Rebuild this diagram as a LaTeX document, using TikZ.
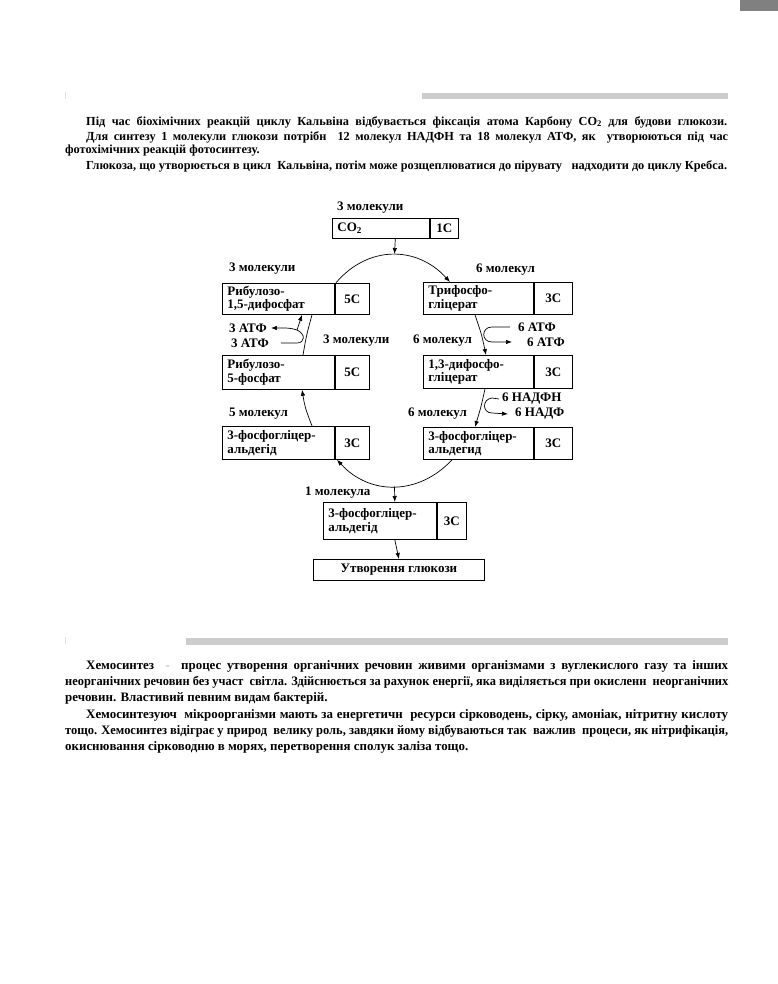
\documentclass[tikz,border=0pt]{standalone}
\usepackage{fontspec}
\usepackage{graphicx}
\setmainfont{Liberation Serif}
\usetikzlibrary{arrows.meta,calc}
\newcommand{\cbox}[8]{%
  \node[cellA, text width=#4pt, minimum height=#6pt] (#1) at (#2,#3) {#7};
  \node[cellB, minimum width=#5pt, minimum height=#6pt] (#1c) at (#1.north east) {#8};
}
\newsavebox\jbox
\newcommand{\jline}[2]{\sbox\jbox{#2}\ifdim\wd\jbox>#1pt\relax\resizebox{#1pt}{\ht\jbox}{\usebox\jbox}\else\makebox[#1pt][s]{#2}\fi}
\begin{document}
\begin{tikzpicture}[x=1pt,y=-1pt,
  dfont/.style={font=\fontsize{13}{13.5}\selectfont\bfseries},
  cellA/.style={draw, line width=0.8pt, anchor=north west, inner xsep=5pt, inner ysep=0pt, align=left, dfont},
  cellB/.style={draw, line width=0.8pt, anchor=north west, inner sep=0pt, align=center, dfont},
  lbl/.style={anchor=west, inner sep=0pt, dfont},
  pa/.style={anchor=west, inner sep=0pt, font=\fontsize{12.3}{14}\selectfont\bfseries},
  pb/.style={anchor=west, inner sep=0pt, font=\fontsize{12.9}{14}\selectfont\bfseries},
  con/.style={line width=0.7pt},
  arr/.style={con, -{Latex[length=6pt,width=4.5pt]}},
  bar/.style={fill=black!20, draw=none}]
\fill[white] (0,0) rectangle (778,984);
\useasboundingbox (0,0) rectangle (778,984);
% decorations
\fill[black!50] (740,0) rectangle (778,11);
\fill[bar] (422,93) rectangle (728,99);
\fill[bar] (186,638) rectangle (728,645);
\draw[black!12, line width=0.8pt] (65,92) -- (65,99);
\draw[black!12, line width=0.8pt] (65,637) -- (65,644);

% paragraph 1
\node[pa] (p1a) at (86,122) {\jline{641}{Під час біохімічних реакцій циклу Кальвіна відбувається фіксація атома Карбону CO\textsubscript{2} для будови глюкози.}};
\node[pa] (p1b) at (86,137) {\jline{642}{Для синтезу 1 молекули глюкози потрібн\ \ 12 молекул НАДФН та 18 молекул АТФ, як\ \ утворюються під час}};
\node[pa] (p1c) at (65,151) {фотохімічних реакцій фотосинтезу.};
\node[pa] (p1d) at (86,166) {\jline{641}{Глюкоза, що утворюється в цикл\ \ Кальвіна, потім може розщеплюватися до пірувату\ \ \ надходити до циклу Кребса.}};

% paragraph 2
\node[pb] (p2a) at (86,666) {\jline{642}{Хемосинтез \ {\color{black!25}-}\ \ процес утворення органічних речовин живими організмами з вуглекислого газу та інших}};
\node[pb] (p2b) at (65,682) {\jline{663}{неорганічних речовин без участ\ \ світла. Здійснюється за рахунок енергії, яка виділяється при окисленн\ \ неорганічних}};
\node[pb] (p2c) at (65,698) {речовин. Властивий певним видам бактерій.};
\node[pb] (p2d) at (86,715) {\jline{642}{Хемосинтезуюч\ \ мікроорганізми мають за енергетичн\ \ ресурси сірководень, сірку, амоніак, нітритну кислоту}};
\node[pb] (p2e) at (65,731) {\jline{663}{тощо. Хемосинтез відіграє у природ\ \ велику роль, завдяки йому відбуваються так\ \ важлив\ \ процеси, як нітрифікація,}};
\node[pb] (p2f) at (65,747) {окиснювання сірководню в морях, перетворення сполук заліза тощо.};

% boxes
\cbox{co2}{332}{218}{87}{28}{20}{CO\textsubscript{2}}{1C}
\cbox{rb15}{222}{283}{102}{34}{31}{Рибулозо-\\1,5-дифосфат}{5C}
\cbox{rb5}{222}{355}{102}{34}{34}{Рибулозо-\\5-фосфат}{5C}
\cbox{pgaL}{222}{426}{102}{34}{33}{3-фосфогліцер-\\альдегід}{3C}
\cbox{trif}{423}{282}{100}{38}{32}{Трифосфо-\\гліцерат}{3C}
\cbox{dpg}{423}{355}{100}{38}{33}{1,3-дифосфо-\\гліцерат}{3C}
\cbox{pgaR}{423}{427}{100}{38}{32}{3-фосфогліцер-\\альдегид}{3C}
\cbox{pgaB}{323}{502}{103}{29}{37}{3-фосфогліцер-\\альдегід}{3C}
\node[cellB, minimum width=171pt, minimum height=21pt] (fin) at (313,559) {Утворення глюкози};

% labels
\node[lbl] (m1) at (337,208) {3 молекули};
\node[lbl] (m2) at (229,269) {3 молекули};
\node[lbl] (m3) at (476,270) {6 молекул};
\node[lbl] (m4) at (323,341) {3 молекули};
\node[lbl] (m5) at (413,341) {6 молекул};
\node[lbl] (m6) at (229,414) {5 молекул};
\node[lbl] (m7) at (408,414) {6 молекул};
\node[lbl] (m8) at (305,493) {1 молекула};
\node[lbl] (atpA) at (229,328) {3 АТФ};
\node[lbl] (atpB) at (231,343) {3 АТФ};
\node[lbl] (atpC) at (518,327) {6 АТФ};
\node[lbl] (atpD) at (527,342) {6 АТФ};
\node[lbl] (nadA) at (502,399) {6 НАДФН};
\node[lbl] (nadB) at (515,414) {6 НАДФ};

% cycle
\coordinate (topc) at (394.5,254);
\coordinate (botc) at (394.5,486.5);
\draw[arr] ($(co2.south west)!0.5!(co2c.south east)$) -- (topc);
\draw[arr] ([xshift=1pt]rb15c.north west) .. controls (367.6,245.4) and (416.6,245.3) .. ([xshift=27pt]trif.north west);
\draw[arr] ([xshift=52pt]trif.south west) .. controls (481.5,334) .. ([xshift=63pt]dpg.north west);
\draw[arr] ([xshift=62pt]dpg.south west) .. controls (481,407) .. ([xshift=52pt]pgaR.north west);
\draw[arr] ([xshift=29pt]pgaR.south west) .. controls (419,495.2) and (370.1,496) .. ([xshift=115pt]pgaL.south west);
\draw[arr] ([xshift=90pt]pgaL.north west) .. controls (305,407.5) .. ([xshift=80pt]rb5.south west);
\draw[con] ([xshift=81pt]rb5.north west) .. controls (306.5,335) .. ([xshift=90pt]rb15.south west);
\draw[arr] (botc) -- ($(pgaB.north west)!0.5!(pgaBc.north east)$);
\draw[arr] ($(pgaB.south west)!0.5!(pgaBc.south east)$) -- (fin.north);

% side branches
\coordinate (jL) at (297,330);
\draw[con] ([xshift=12pt]atpB.east) -- (297,343) .. controls (305,343) and (306,334) .. (jL);
\draw[arr] (jL) -- ([xshift=80pt]rb15.south west);
\draw[arr] (jL) .. controls (290,328) .. ([xshift=4pt]atpA.east);
\draw[arr] ([xshift=-8pt]atpC.west) -- (492,327) .. controls (481,327) and (481,342) .. (492,342) -- ([xshift=-15pt]atpD.west);
\draw[arr] ([xshift=-3pt]nadA.west) -- (492,398) .. controls (482,399) and (482,413) .. (492,413) -- ([xshift=-7pt]nadB.west);
\end{tikzpicture}
\end{document}
